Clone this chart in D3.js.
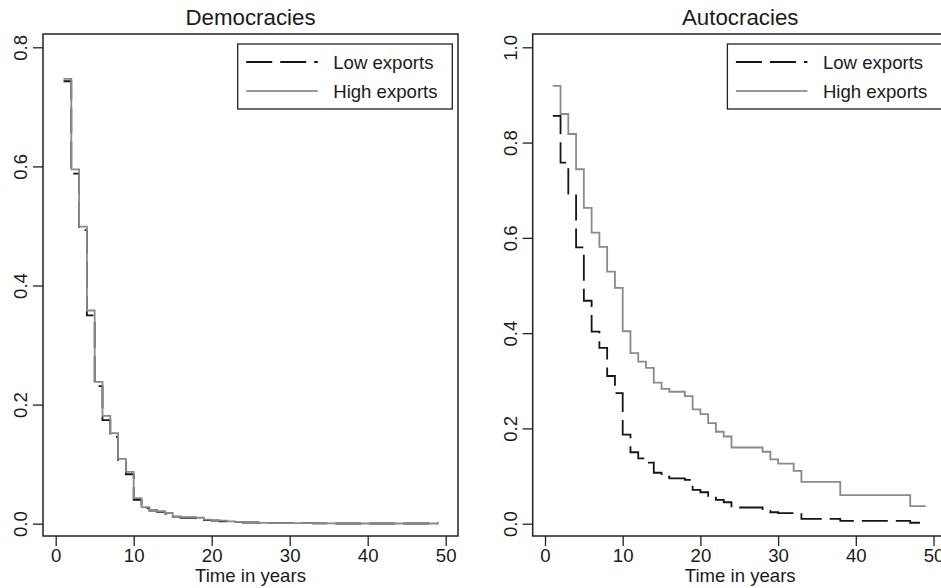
<!doctype html>
<html>
<head>
<script src="https://cdnjs.cloudflare.com/ajax/libs/d3/7.8.5/d3.min.js"></script>
<style>
    body { margin: 0; background: #fff; }
    svg text { font-family: "Liberation Sans", Arial, Helvetica, sans-serif; fill: #1a1a1a; }
    .axis path { display: none; }
    .axis line { stroke: #222; stroke-width: 1.3; }
</style>
</head>
<body>
<script>
    // survival estimates (step functions, year steps)
    var seriesNames = ["Low exports", "High exports"];
    var xTicks = [0, 10, 20, 30, 40, 50];

    var demTimes = [1, 2, 3, 4, 5, 6, 7, 8, 9, 10, 11, 12, 13, 14, 15, 16, 17, 18, 19, 20, 21, 22, 23, 24, 25, 26, 28, 30, 33, 36, 49];
    var demLow = [0.743, 0.588, 0.493, 0.350, 0.231, 0.174, 0.146, 0.104, 0.083, 0.040, 0.026, 0.022, 0.020, 0.017, 0.012, 0.010, 0.010, 0.009, 0.006, 0.005, 0.004, 0.003, 0.003, 0.002, 0.002, 0.0015, 0.001, 0.001, 0.0005, 0.0003, 0.0002];
    var demHigh = [0.747, 0.595, 0.499, 0.358, 0.238, 0.181, 0.152, 0.109, 0.087, 0.043, 0.028, 0.023, 0.021, 0.018, 0.012, 0.011, 0.011, 0.010, 0.007, 0.006, 0.005, 0.004, 0.003, 0.002, 0.002, 0.0015, 0.001, 0.001, 0.0005, 0.0003, 0.0002];
    var demYTicks = [0, 0.2, 0.4, 0.6, 0.8];

    var autTimes = [1, 2, 3, 4, 5, 6, 7, 8, 9, 10, 11, 12, 13, 14, 15, 16, 18, 19, 20, 21, 22, 23, 24, 28, 29, 30, 32, 33, 38, 47, 49];
    var autLow = [0.856, 0.758, 0.693, 0.580, 0.468, 0.403, 0.369, 0.310, 0.274, 0.187, 0.150, 0.137, 0.128, 0.107, 0.099, 0.095, 0.092, 0.071, 0.066, 0.058, 0.050, 0.045, 0.034, 0.027, 0.024, 0.022, 0.022, 0.010, 0.006, 0.002, 0.002];
    var autHigh = [0.919, 0.860, 0.818, 0.744, 0.663, 0.611, 0.581, 0.529, 0.495, 0.404, 0.358, 0.340, 0.327, 0.296, 0.283, 0.277, 0.268, 0.240, 0.230, 0.211, 0.193, 0.183, 0.160, 0.151, 0.135, 0.126, 0.111, 0.088, 0.060, 0.037, 0.037];
    var autYTicks = [0, 0.2, 0.4, 0.6, 0.8, 1.0];

    var W = 941, H = 588;
    var fs = 18.6;

    var svg = d3.select("body").append("svg")
        .attr("width", W)
        .attr("height", H);

    function panel(opt) {
        var x = d3.scaleLinear().domain([0, 50]).range(opt.xRange);
        var y = d3.scaleLinear().domain([0, opt.yMax]).range([523.7, 47.3]);
        var g = svg.append("g");

        // y axis
        var ya = g.append("g").attr("class", "axis")
            .attr("transform", "translate(" + opt.box[0] + ",0)")
            .call(d3.axisLeft(y).tickValues(opt.yTicks).tickSize(10).tickFormat(d3.format(".1f")));
        ya.selectAll("text")
            .attr("x", null).attr("dy", null)
            .attr("transform", "translate(-16,0) rotate(-90)")
            .style("text-anchor", "middle")
            .style("font-size", fs + "px");

        // x axis
        var xa = g.append("g").attr("class", "axis")
            .attr("transform", "translate(0," + opt.box[3] + ")")
            .call(d3.axisBottom(x).tickValues(xTicks).tickSize(10));
        xa.selectAll("text").style("font-size", fs + "px");

        // curves
        var line = d3.line()
            .x(function(d) { return x(d[0]); })
            .y(function(d) { return y(d[1]); })
            .curve(d3.curveStepAfter);

        g.append("path")
            .attr("d", line(opt.times.map(function(t, i) { return [t, opt.low[i]]; })))
            .attr("fill", "none")
            .attr("stroke", "#151515")
            .attr("stroke-width", 1.8)
            .attr("stroke-dasharray", "26,8");
        g.append("path")
            .attr("d", line(opt.times.map(function(t, i) { return [t, opt.high[i]]; })))
            .attr("fill", "none")
            .attr("stroke", "#8a8a8a")
            .attr("stroke-width", 1.8);

        // box
        g.append("rect")
            .attr("x", opt.box[0]).attr("y", opt.box[1])
            .attr("width", opt.box[2] - opt.box[0])
            .attr("height", opt.box[3] - opt.box[1])
            .attr("fill", "none").attr("stroke", "#222").attr("stroke-width", 1.5);

        var cx = (opt.box[0] + opt.box[2]) / 2;
        g.append("text").attr("x", cx).attr("y", 25)
            .attr("text-anchor", "middle").style("font-size", "22.3px")
            .text(opt.title);
        g.append("text").attr("x", cx).attr("y", 582)
            .attr("text-anchor", "middle").style("font-size", fs + "px")
            .text("Time in years");

        // legend
        var lx = opt.box[2] - 5.7 - 214.6, ly = opt.box[1] + 10;
        var lg = g.append("g").attr("transform", "translate(" + lx + "," + ly + ")");
        lg.append("rect").attr("width", 214.6).attr("height", 65)
            .attr("fill", "#fff").attr("stroke", "#222").attr("stroke-width", 1.3);
        var rows = [
            {name: seriesNames[0], stroke: "#151515", dash: "26,8"},
            {name: seriesNames[1], stroke: "#999", dash: null}
        ];
        rows.forEach(function(r, i) {
            var yy = 18 + i * 29;
            lg.append("line").attr("x1", 8.5).attr("x2", 80).attr("y1", yy).attr("y2", yy)
                .attr("stroke", r.stroke).attr("stroke-width", 1.8)
                .attr("stroke-dasharray", r.dash);
            lg.append("text").attr("x", 95.5).attr("y", yy).attr("dy", "0.35em")
                .style("font-size", fs + "px").text(r.name);
        });
    }

    panel({title: "Democracies", box: [43, 34, 458, 536], xRange: [55.7, 445.7], yMax: 0.8,
           yTicks: demYTicks, times: demTimes, low: demLow, high: demHigh});
    panel({title: "Autocracies", box: [532.7, 34, 947.7, 536], xRange: [545, 933.5], yMax: 1.0,
           yTicks: autYTicks, times: autTimes, low: autLow, high: autHigh});
</script>
</body>
</html>
